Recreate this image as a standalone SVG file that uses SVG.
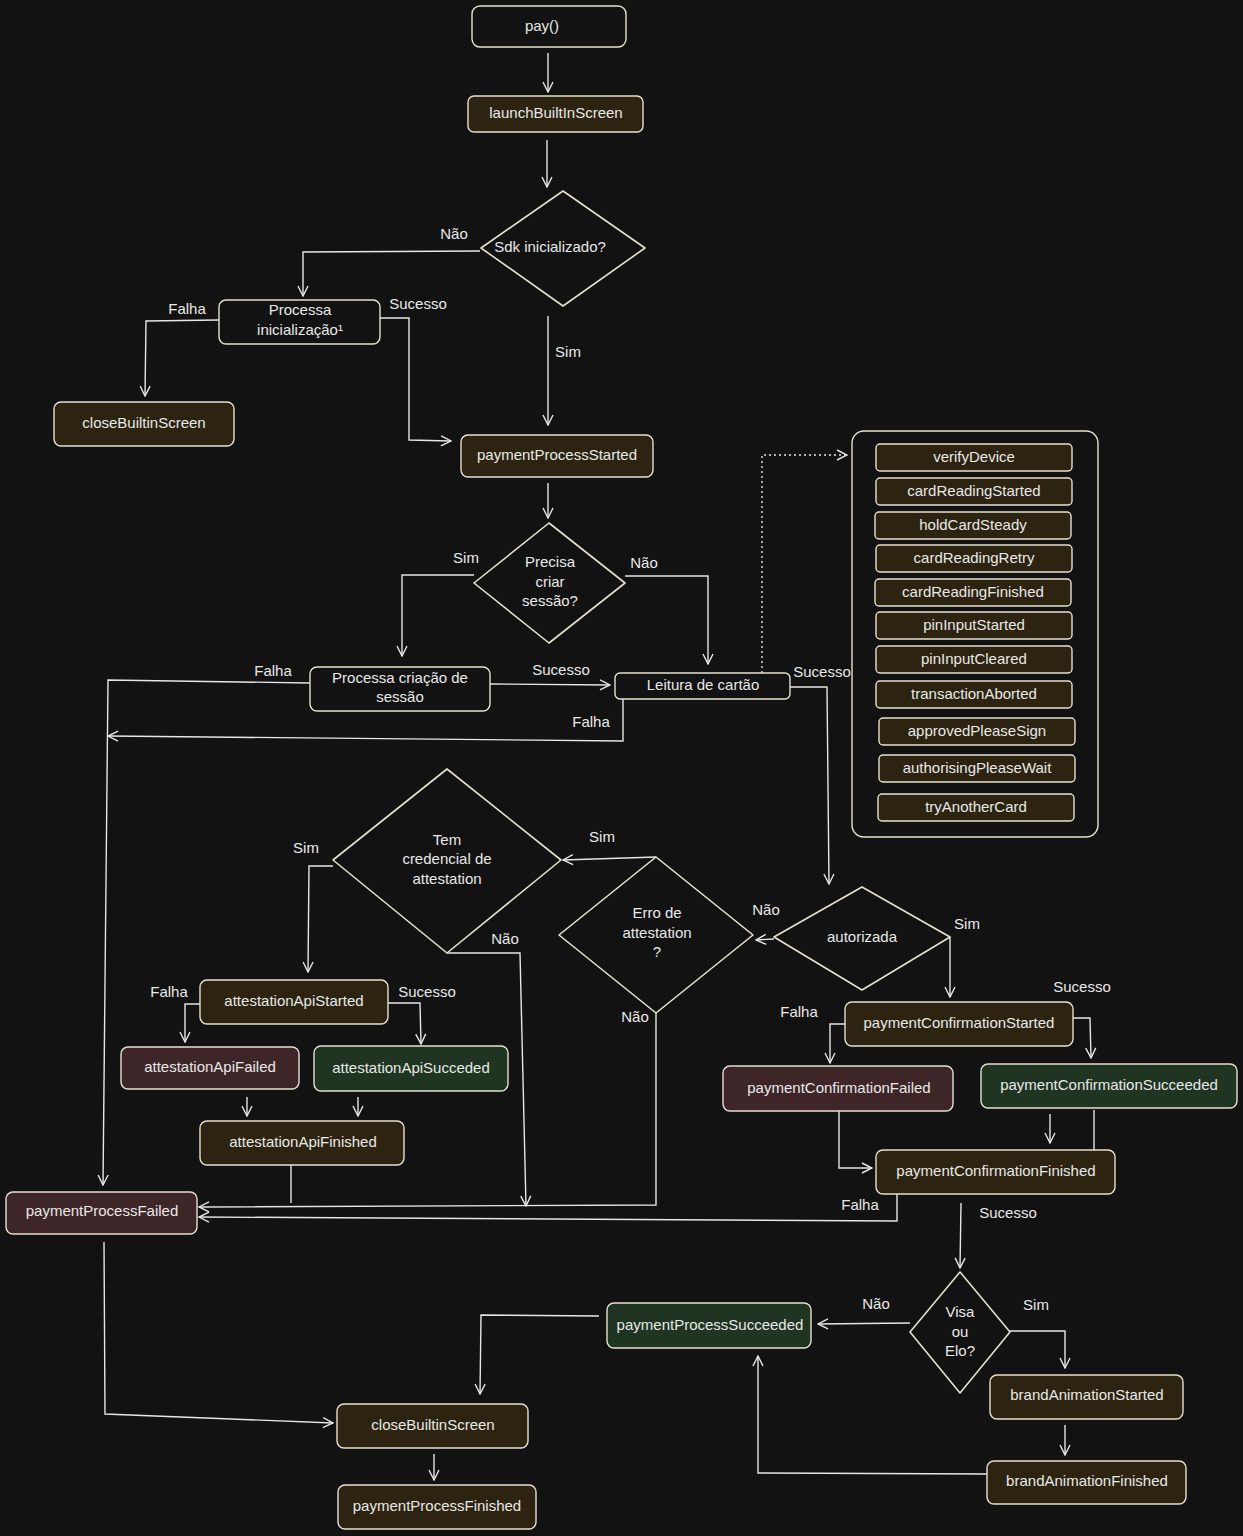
<svg xmlns="http://www.w3.org/2000/svg" width="1243" height="1536" viewBox="0 0 1243 1536">
<defs>
<marker id="a" viewBox="0 0 12 12" refX="11" refY="6" markerWidth="12" markerHeight="12" markerUnits="userSpaceOnUse" orient="auto"><path d="M1,1 L11,6 L1,11" fill="none" stroke="#e6e6e6" stroke-width="1.4"/></marker>
</defs>
<style>
text{font-family:"Liberation Sans",Arial,sans-serif;font-size:15px;fill:#e8e8e8;text-anchor:middle;dominant-baseline:middle}
rect,polygon{stroke:#e6e0d0;stroke-width:1.4;stroke-linejoin:round}
polygon{stroke-width:1.6}
.d{fill:#121212}.b{fill:#2c2410}.r{fill:#3e2628}.g{fill:#1f3522}
#c polyline{fill:none;stroke:#e6e6e6;stroke-width:1.4;marker-end:url(#a)}
#c .n{marker-end:none}
</style>
<rect width="1243" height="1536" style="fill:#121212;stroke:none"/>
<g id="c">
<polyline points="548,53 548,92"/>
<polyline points="547,140 547,187"/>
<polyline points="480,251 303,252 303,296"/>
<polyline points="548,316 548,425"/>
<polyline points="380,318 409,318 409,440 451,441"/>
<polyline points="219,320 146,321 145,396"/>
<polyline points="548,483 548,518"/>
<polyline points="474,575 402,575 402,656"/>
<polyline points="625,576 708,576 708,664"/>
<polyline points="490,684 610,685"/>
<polyline points="310,683 108,680 103,1185"/>
<polyline points="623,699 623,741 108,736"/>
<polyline points="762,673 762,455 847,455" stroke-dasharray="2,3"/>
<polyline points="790,687 827,687 829,884"/>
<polyline points="774,939 756,940"/>
<polyline points="656,857 563,860"/>
<polyline points="333,866 309,866 308,972"/>
<polyline points="447,953 520,953 526,1206"/>
<polyline points="656,1013 656,1205 199,1207"/>
<polyline points="200,1004 185,1004 185,1042"/>
<polyline points="388,1003 420,1003 421,1044"/>
<polyline points="247,1097 247,1116"/>
<polyline points="358,1097 358,1116"/>
<polyline class="n" points="291,1165 291,1203"/>
<polyline points="950,937 950,997"/>
<polyline points="845,1024 830,1024 830,1063"/>
<polyline points="1073,1018 1090,1018 1091,1058"/>
<polyline points="839,1111 839,1168 872,1168"/>
<polyline points="1050,1114 1050,1143"/>
<polyline class="n" points="1094,1110 1094,1165"/>
<polyline points="897,1185 897,1221 199,1217"/>
<polyline points="961,1203 960,1268"/>
<polyline points="910,1323 818,1324"/>
<polyline points="1010,1331 1065,1331 1065,1368"/>
<polyline points="1065,1425 1065,1455"/>
<polyline points="987,1474 758,1473 758,1356"/>
<polyline points="599,1316 481,1315 480,1394"/>
<polyline points="104,1242 105,1414 333,1423"/>
<polyline points="434,1454 434,1480"/>
</g>
<g id="labels">
<text x="454" y="235">Não</text><text x="568" y="353">Sim</text><text x="418" y="305">Sucesso</text><text x="187" y="310">Falha</text>
<text x="466" y="559">Sim</text><text x="644" y="564">Não</text><text x="561" y="671">Sucesso</text><text x="273" y="672">Falha</text>
<text x="591" y="723">Falha</text><text x="822" y="673">Sucesso</text><text x="766" y="911">Não</text><text x="602" y="838">Sim</text>
<text x="306" y="849">Sim</text><text x="505" y="940">Não</text><text x="635" y="1018">Não</text><text x="169" y="993">Falha</text>
<text x="427" y="993">Sucesso</text><text x="967" y="925">Sim</text><text x="799" y="1013">Falha</text><text x="1082" y="988">Sucesso</text>
<text x="860" y="1206">Falha</text><text x="1008" y="1214">Sucesso</text><text x="876" y="1305">Não</text><text x="1036" y="1306">Sim</text>
</g>
<g id="pay"><rect class="d" x="472" y="6" width="154" height="41" rx="8"/><text x="542" y="27">pay()</text></g>
<g id="launch"><rect class="b" x="468" y="96" width="175" height="36" rx="6"/><text x="556" y="114">launchBuiltInScreen</text></g>
<g id="sdk"><polygon class="d" points="563,191 645,248 563,306 481,248"/><text x="550" y="248">Sdk inicializado?</text></g>
<g id="pinit"><rect class="d" x="219" y="300" width="161" height="44" rx="7"/><text x="300" y="311">Processa</text><text x="300" y="331">inicialização¹</text></g>
<g id="close1"><rect class="b" x="54" y="402" width="180" height="44" rx="7"/><text x="144" y="424">closeBuiltinScreen</text></g>
<g id="pps"><rect class="b" x="461" y="435" width="192" height="42" rx="7"/><text x="557" y="456">paymentProcessStarted</text></g>
<g id="precisa"><polygon class="d" points="549,523 625,583 549,643 474,583"/><text x="550" y="563">Precisa</text><text x="550" y="583">criar</text><text x="550" y="602">sessão?</text></g>
<g id="psess"><rect class="d" x="310" y="667" width="180" height="44" rx="7"/><text x="400" y="679">Processa criação de</text><text x="400" y="698">sessão</text></g>
<g id="leitura"><rect class="d" x="615" y="673" width="175" height="26" rx="5"/><text x="703" y="686">Leitura de cartão</text></g>
<g id="panel"><rect class="d" x="852" y="431" width="246" height="406" rx="12"/>
<rect class="b" x="876" y="444" width="196" height="27" rx="4"/><text x="974" y="458">verifyDevice</text>
<rect class="b" x="876" y="478" width="196" height="27" rx="4"/><text x="974" y="492">cardReadingStarted</text>
<rect class="b" x="875" y="512" width="196" height="27" rx="4"/><text x="973" y="526">holdCardSteady</text>
<rect class="b" x="876" y="545" width="196" height="27" rx="4"/><text x="974" y="559">cardReadingRetry</text>
<rect class="b" x="875" y="579" width="196" height="27" rx="4"/><text x="973" y="593">cardReadingFinished</text>
<rect class="b" x="876" y="612" width="196" height="27" rx="4"/><text x="974" y="626">pinInputStarted</text>
<rect class="b" x="876" y="646" width="196" height="27" rx="4"/><text x="974" y="660">pinInputCleared</text>
<rect class="b" x="876" y="681" width="196" height="27" rx="4"/><text x="974" y="695">transactionAborted</text>
<rect class="b" x="879" y="718" width="196" height="27" rx="4"/><text x="977" y="732">approvedPleaseSign</text>
<rect class="b" x="879" y="755" width="196" height="27" rx="4"/><text x="977" y="769">authorisingPleaseWait</text>
<rect class="b" x="878" y="794" width="196" height="27" rx="4"/><text x="976" y="808">tryAnotherCard</text>
</g>
<g id="tem"><polygon class="d" points="447,769 561,860 447,953 333,860"/><text x="447" y="841">Tem</text><text x="447" y="860">credencial de</text><text x="447" y="880">attestation</text></g>
<g id="erro"><polygon class="d" points="656,857 753,935 656,1013 559,935"/><text x="657" y="914">Erro de</text><text x="657" y="934">attestation</text><text x="657" y="953">?</text></g>
<g id="aut"><polygon class="d" points="862,887 950,937 862,990 774,937"/><text x="862" y="938">autorizada</text></g>
<g id="aas"><rect class="b" x="200" y="980" width="188" height="44" rx="7"/><text x="294" y="1002">attestationApiStarted</text></g>
<g id="aaf"><rect class="r" x="121" y="1047" width="178" height="42" rx="7"/><text x="210" y="1068">attestationApiFailed</text></g>
<g id="aasu"><rect class="g" x="314" y="1046" width="194" height="45" rx="7"/><text x="411" y="1069">attestationApiSucceded</text></g>
<g id="aafi"><rect class="b" x="200" y="1121" width="204" height="44" rx="7"/><text x="303" y="1143">attestationApiFinished</text></g>
<g id="ppf"><rect class="r" x="6" y="1192" width="191" height="42" rx="7"/><text x="102" y="1212">paymentProcessFailed</text></g>
<g id="pcs"><rect class="b" x="845" y="1002" width="228" height="44" rx="7"/><text x="959" y="1024">paymentConfirmationStarted</text></g>
<g id="pcf"><rect class="r" x="723" y="1066" width="230" height="45" rx="7"/><text x="839" y="1089">paymentConfirmationFailed</text></g>
<g id="pcsu"><rect class="g" x="981" y="1064" width="256" height="44" rx="7"/><text x="1109" y="1086">paymentConfirmationSucceeded</text></g>
<g id="pcfi"><rect class="b" x="876" y="1150" width="239" height="44" rx="7"/><text x="996" y="1172">paymentConfirmationFinished</text></g>
<g id="visa"><polygon class="d" points="960,1272 1010,1332 960,1393 910,1332"/><text x="960" y="1313">Visa</text><text x="960" y="1333">ou</text><text x="960" y="1352">Elo?</text></g>
<g id="ppsu"><rect class="g" x="607" y="1303" width="204" height="45" rx="7"/><text x="710" y="1326">paymentProcessSucceeded</text></g>
<g id="bas"><rect class="b" x="990" y="1375" width="193" height="44" rx="7"/><text x="1087" y="1396">brandAnimationStarted</text></g>
<g id="baf"><rect class="b" x="987" y="1461" width="199" height="43" rx="7"/><text x="1087" y="1482">brandAnimationFinished</text></g>
<g id="close2"><rect class="b" x="337" y="1404" width="191" height="44" rx="7"/><text x="433" y="1426">closeBuiltinScreen</text></g>
<g id="ppfi"><rect class="b" x="338" y="1485" width="198" height="44" rx="7"/><text x="437" y="1507">paymentProcessFinished</text></g>
</svg>
